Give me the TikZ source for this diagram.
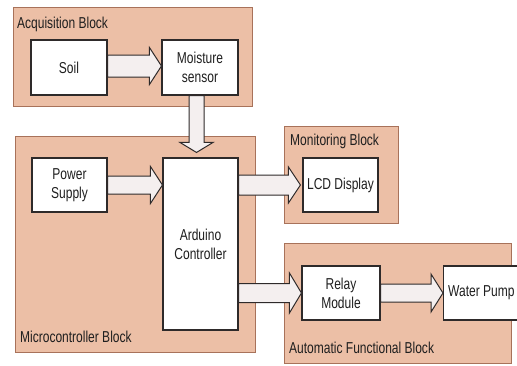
\documentclass[tikz,border=0pt]{standalone}
\usepackage{fontspec}
\setmainfont{Liberation Sans}[FakeStretch=0.76]
\usetikzlibrary{calc}
\definecolor{blockfill}{HTML}{ECBFA6}
\definecolor{blockline}{HTML}{A8725A}
\definecolor{boxline}{HTML}{2E2A2A}
\definecolor{arrowfill}{HTML}{F4EFEF}
\tikzset{
  group/.style={draw=blockline, fill=blockfill, line width=1pt},
  unit/.style={draw=boxline, fill=white, line width=1.1pt, align=center, inner sep=0pt},
  grouptitle/.style={anchor=base west, inner sep=0pt},
  blockarrow/.style={draw=boxline, fill=arrowfill, line width=1pt, line join=miter},
}
\newcommand\harrow[4]{% from, to, body half, head half
  \draw[blockarrow] ($(#1)+(0,#3)$) -- ($(#2)+(-12,#3)$) -- ($(#2)+(-12,#4)$) -- (#2)
    -- ($(#2)+(-12,-#4)$) -- ($(#2)+(-12,-#3)$) -- ($(#1)+(0,-#3)$) -- cycle;}
\begin{document}
\begin{tikzpicture}[x=1pt,y=-1pt,font=\fontsize{15.8}{19}\selectfont,text=black!88]
\useasboundingbox (0,0) rectangle (517,365);
\clip (0,0) rectangle (517,365);
% groups
\draw[group] (13,7) rectangle (252,106);
\draw[group] (15,136) rectangle (255,352);
\draw[group] (284,126) rectangle (398,223);
\draw[group] (284,243) rectangle (511,363);
\node[grouptitle] (tacq) at (17,28) {Acquisition Block};
\node[grouptitle] (tmic) at (20,342) {Microcontroller Block};
\node[grouptitle] (tmon) at (290,145) {Monitoring Block};
\node[grouptitle] (taut) at (289,353) {Automatic Functional Block};
% units
\node[unit, minimum width=76pt, minimum height=55pt] (soil) at (69,67.5) {Soil};
\node[unit, minimum width=76pt, minimum height=55pt] (moist) at (200,67.5) {Moisture\\sensor};
\node[unit, minimum width=75pt, minimum height=54pt] (power) at (69.5,185) {Power\\Supply};
\node[unit, minimum width=75pt, minimum height=172pt] (ard) at (200.5,244) {Arduino\\Controller};
\node[unit, minimum width=75pt, minimum height=54pt] (lcd) at (340.5,185) {LCD Display};
\node[unit, minimum width=78pt, minimum height=54pt] (relay) at (341,293) {Relay\\Module};
\node[unit, minimum width=78pt, minimum height=54pt, anchor=west] (pump) at (443,293) {};
\node[anchor=west, inner sep=0pt] (pumptxt) at ($(pump.west)+(5,0)$) {Water Pump};
% arrows
\coordinate (s1) at ($(soil.east)+(0,-1.5)$);
\coordinate (s2) at ($(moist.west)+(0,-1.5)$);
\harrow{s1}{s2}{11}{18.5}
\harrow{power.east}{ard.west |- power.east}{9}{18.5}
\coordinate (a1) at (ard.east |- lcd.west);
\coordinate (a2) at ($(lcd.west)+(-2,0)$);
\harrow{a1}{a2}{10}{18}
\coordinate (r1) at (ard.east |- relay.west);
\harrow{r1}{relay.west}{9.5}{20}
\harrow{relay.east}{pump.west}{9}{19}
% down arrow
\coordinate (d1) at ($(moist.south)+(-3.5,0)$);
\coordinate (d2) at ($(ard.north)+(-4,-5)$);
\draw[blockarrow] ($(d1)+(-7.5,0)$) -- ($(d2)+(-7.5,-10)$) -- ($(d2)+(-16.5,-10)$) -- (d2)
  -- ($(d2)+(16.5,-10)$) -- ($(d2)+(7.5,-10)$) -- ($(d1)+(7.5,0)$) -- cycle;
\end{tikzpicture}
\end{document}
